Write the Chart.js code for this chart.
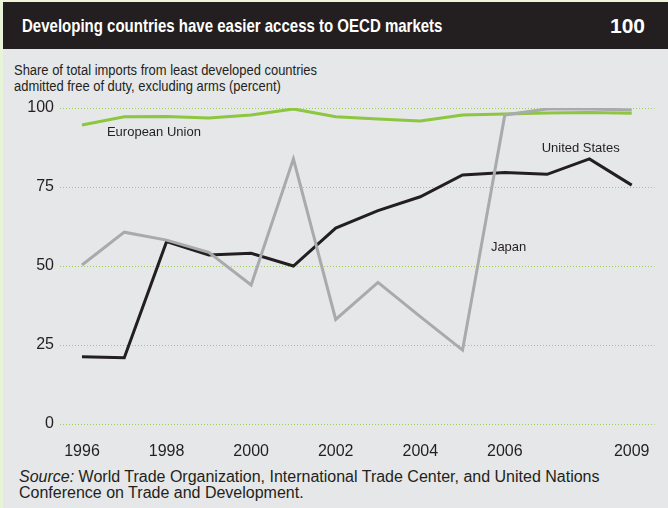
<!DOCTYPE html>
<html>
<head>
<meta charset="utf-8">
<script src="https://cdn.jsdelivr.net/npm/chart.js@4/dist/chart.umd.min.js"></script>
<style>
    html, body { margin: 0; padding: 0; }
    body { width: 668px; height: 508px; background: #e6e7e8; position: relative; overflow: hidden; font-family: "Liberation Sans", Arial, sans-serif; color: #231f20; }
    .edge-left { position: absolute; left: 0; top: 0; width: 3px; height: 508px; background: #e8f4d8; }
    .edge-top { position: absolute; left: 0; top: 0; width: 668px; height: 2px; background: #eef5d8; }
    .titlebar { position: absolute; left: 3px; top: 2px; width: 665px; height: 47px; background: #231f20; color: #fff; }
    .titlebar .title { position: absolute; left: 19px; top: 13px; font-weight: bold; font-size: 19px; white-space: nowrap; transform: scaleX(0.79); transform-origin: 0 0; }
    .titlebar .page { position: absolute; left: 607px; top: 12px; font-weight: bold; font-size: 21px; }
    .subtitle { position: absolute; left: 14px; top: 62px; font-size: 14px; line-height: 16px; white-space: nowrap; transform: scaleX(0.925); transform-origin: 0 0; }
    .source { position: absolute; left: 19px; top: 469px; font-size: 16px; line-height: 16px; white-space: nowrap; }
    #wrap { position: absolute; left: 0; top: 0; width: 668px; height: 508px; }
</style>
</head>
<body>
<div class="edge-left"></div>
<div class="edge-top"></div>
<div class="titlebar">
    <span class="title">Developing countries have easier access to OECD markets</span>
    <span class="page">100</span>
</div>
<div class="subtitle">Share of total imports from least developed countries<br>admitted free of duty, excluding arms (percent)</div>
<div class="source"><i>Source:</i> World Trade Organization, International Trade Center, and United Nations<br>Conference on Trade and Development.</div>
<div id="wrap"><canvas id="chart" width="668" height="508"></canvas></div>

<script>
// data
var years = [1996, 1997, 1998, 1999, 2000, 2001, 2002, 2003, 2004, 2005, 2006, 2007, 2008, 2009];
var euValues    = [94.6, 97.2, 97.3, 96.8, 97.8, 99.7, 97.2, 96.5, 95.9, 97.8, 98.1, 98.4, 98.6, 98.3];
var usValues    = [21.3, 21.0, 57.7, 53.5, 54.0, 50.0, 62.0, 67.5, 71.9, 78.8, 79.6, 79.0, 83.9, 75.6];
var japanValues = [50.3, 60.7, 58.2, 54.3, 44.0, 83.9, 33.1, 44.8, 34.0, 23.4, 97.8, 99.7, 99.7, 99.4];
var xTickYears = [1996, 1998, 2000, 2002, 2004, 2006, 2009];
var yTickValues = [0, 25, 50, 75, 100];

function toPoints(vals) {
    return years.map(function (y, i) { return { x: y, y: vals[i] }; });
}

// series names drawn next to the lines
var seriesLabels = [
    { text: "European Union", x: 1996.59, y: 92.4 },
    { text: "United States", x: 2006.87, y: 87.3 },
    { text: "Japan", x: 2005.67, y: 56.0 }
];

var lineLabels = {
    id: "lineLabels",
    afterDatasetsDraw: function (chart) {
        var ctx = chart.ctx;
        ctx.save();
        ctx.font = '13px "Liberation Sans", Arial, sans-serif';
        ctx.fillStyle = "#231f20";
        ctx.textAlign = "left";
        ctx.textBaseline = "middle";
        seriesLabels.forEach(function (l) {
            ctx.fillText(l.text, chart.scales.x.getPixelForValue(l.x), chart.scales.y.getPixelForValue(l.y));
        });
        ctx.restore();
    }
};

var ctx = document.getElementById("chart").getContext("2d");
var chart = new Chart(ctx, {
    type: "line",
    data: {
        datasets: [{
            label: "Japan",
            data: toPoints(japanValues),
            borderColor: "#a9aaac",
            borderWidth: 3
        }, {
            label: "European Union",
            data: toPoints(euValues),
            borderColor: "#8dc63f",
            borderWidth: 3
        }, {
            label: "United States",
            data: toPoints(usValues),
            borderColor: "#231f20",
            borderWidth: 3
        }]
    },
    options: {
        responsive: false,
        animation: false,
        events: [],
        elements: { point: { radius: 0 }, line: { tension: 0, borderJoinStyle: "miter" } },
        layout: { padding: { left: 0, top: 108, right: 13, bottom: 44 } },
        plugins: { legend: { display: false }, tooltip: { enabled: false } },
        scales: {
            x: {
                type: "linear",
                min: 1995.48,
                max: 2009.54,
                afterBuildTicks: function (axis) {
                    axis.ticks = xTickYears.map(function (v) { return { value: v }; });
                },
                afterFit: function (axis) { axis.height = 40; },
                grid: { display: false, drawTicks: false },
                border: { display: false },
                ticks: {
                    color: "#231f20",
                    padding: 18,
                    maxRotation: 0,
                    autoSkip: false,
                    font: { family: '"Liberation Sans", Arial, sans-serif', size: 16 },
                    callback: function (v) { return String(v); }
                }
            },
            y: {
                min: 0,
                max: 100,
                afterBuildTicks: function (axis) {
                    axis.ticks = yTickValues.map(function (v) { return { value: v }; });
                },
                afterFit: function (axis) { axis.width = 60; },
                grid: {
                    color: "#9ccf5a",
                    lineWidth: 1,
                    drawTicks: false,
                    tickLength: 0
                },
                border: { display: false, dash: [1, 2] },
                ticks: {
                    color: "#231f20",
                    padding: 6,
                    font: { family: '"Liberation Sans", Arial, sans-serif', size: 16 }
                }
            }
        }
    },
    plugins: [lineLabels]
});
</script>
</body>
</html>
